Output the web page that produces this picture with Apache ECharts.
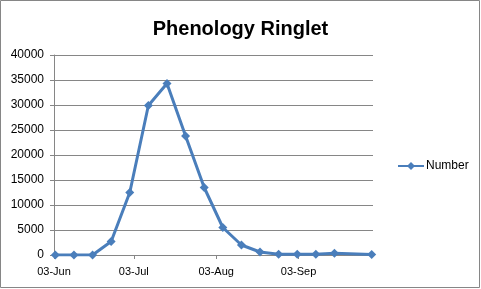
<!DOCTYPE html>
<html>
<head>
<meta charset="utf-8">
<script src="https://cdn.jsdelivr.net/npm/echarts@6/dist/echarts.min.js"></script>
<style>
html,body{margin:0;padding:0;background:#fff;}
#chart{width:481px;height:289px;}
</style>
</head>
<body>
<div id="chart"></div>
<script>
const titleText = 'Phenology Ringlet';
const seriesName = 'Number';
const dates = ['2013-06-03','2013-06-10','2013-06-17','2013-06-24','2013-07-01','2013-07-08','2013-07-15','2013-07-22','2013-07-29','2013-08-05','2013-08-12','2013-08-19','2013-08-26','2013-09-02','2013-09-09','2013-09-16','2013-09-30'];
const counts = [0,0,0,2700,12500,29900,34300,23800,13500,5500,2000,600,150,150,150,350,100];
const tickDates = ['2013-06-03','2013-07-03','2013-08-03','2013-09-03'];
const axisStart = '2013-06-03';
const axisEnd = '2013-10-01';
const monthNames = ['Jan','Feb','Mar','Apr','May','Jun','Jul','Aug','Sep','Oct','Nov','Dec'];

function toTime(s){const p=s.split('-').map(Number);return new Date(p[0],p[1]-1,p[2]).getTime();}
const halfDay = 12*3600*1000;
const seriesData = dates.map((d,i)=>[toTime(d)+halfDay, counts[i]]);
const tickValues = tickDates.map(toTime);

const chart = echarts.init(document.getElementById('chart'), null, {renderer:'canvas'});
chart.setOption({
  animation:false,
  backgroundColor:'#fff',
  title:{
    text:titleText,
    left:'center', top:14,
    textStyle:{fontFamily:'Liberation Sans',fontWeight:'bold',fontSize:20,color:'#000'}
  },
  legend:{
    left:392, top:155,
    itemWidth:26, itemHeight:10, itemGap:2,
    textStyle:{fontFamily:'Liberation Sans',fontSize:12,color:'#000',padding:[0,0,0,-3]},
    data:[seriesName]
  },
  grid:{left:54,right:108,top:55,bottom:34,containLabel:false},
  xAxis:{
    type:'value',
    min:toTime(axisStart), max:toTime(axisEnd),
    axisLine:{show:true,onZero:false,lineStyle:{color:'#868686',width:1}},
    axisTick:{show:true,length:4,customValues:tickValues,lineStyle:{color:'#868686'}},
    axisLabel:{
      customValues:tickValues,
      fontFamily:'Liberation Sans',fontSize:11,color:'#000',margin:11,
      formatter:function(v){const d=new Date(v);const dd=d.getDate();return (dd<10?'0':'')+dd+'-'+monthNames[d.getMonth()];}
    },
    splitLine:{show:false}
  },
  yAxis:{
    type:'value',min:0,max:40000,interval:5000,
    axisLine:{show:true,lineStyle:{color:'#868686',width:1}},
    axisTick:{show:true,length:4,lineStyle:{color:'#868686'}},
    axisLabel:{fontFamily:'Liberation Sans',fontSize:12,color:'#000',margin:10,formatter:function(v){return String(v);}},
    splitLine:{show:true,lineStyle:{color:'#868686',width:1}}
  },
  series:[{
    name:seriesName,type:'line',data:seriesData,
    symbol:'diamond',symbolSize:9,
    lineStyle:{color:'#4A7EBB',width:3},
    itemStyle:{color:'#4A7EBB'}
  }],
  graphic:[{
    type:'rect',silent:true,z:100,
    shape:{x:0.5,y:0.5,width:479,height:287},
    style:{fill:null,stroke:'#868686',lineWidth:1}
  }]
});
</script>
</body>
</html>
